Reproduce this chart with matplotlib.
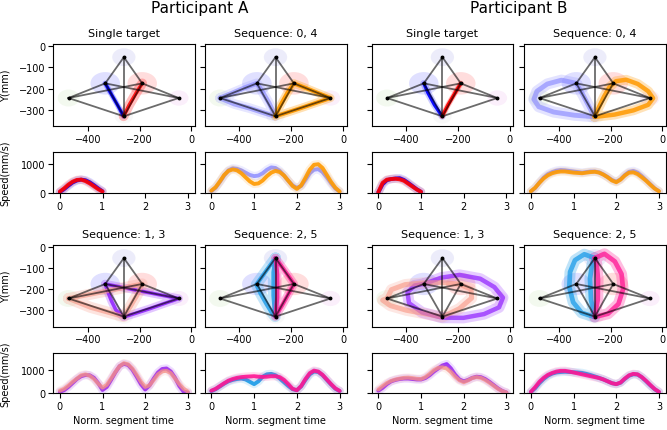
import matplotlib
matplotlib.use('Agg')
import matplotlib.pyplot as plt
from matplotlib.patches import Ellipse

# ---------------- data ----------------
# targets: T, UL, UR, L, R, B
TARGET_X = [-261, -333, -190, -475, -49, -261]
TARGET_Y = [-52, -175, -175, -244, -244, -330]
TARGET_RX = [45, 57, 57, 42, 38, 36]
TARGET_RY = [42, 53, 53, 40, 36, 34]
TARGET_COLORS = ['#6a6ad8', '#4040ff', '#ff3030', '#66bb33', '#cc33cc', '#888888']
TARGET_ALPHA = [0.12, 0.16, 0.16, 0.08, 0.08, 0.05]
EDGES = [(0, 1), (0, 2), (0, 5), (1, 5), (2, 5), (3, 5), (4, 5), (3, 1), (3, 2), (4, 2), (4, 1)]

# ---- Participant A trajectories ----
A_ST_BLUE_X = [-262, -285, -310, -333]
A_ST_BLUE_Y = [-330, -278, -225, -175]
A_ST_RED_X = [-262, -240, -214, -190]
A_ST_RED_Y = [-330, -276, -222, -175]

A_S04_BLUE_X = [-475, -420, -360, -300, -262, -285, -310, -333, -380, -430, -475]
A_S04_BLUE_Y = [-244, -272, -292, -316, -330, -270, -218, -175, -196, -222, -244]
A_S04_ORANGE_X = [-262, -242, -216, -190, -140, -90, -49, -100, -160, -220, -262]
A_S04_ORANGE_Y = [-330, -278, -222, -175, -199, -224, -244, -265, -290, -314, -330]

A_S13_PURPLE_X = [-333, -260, -190, -120, -49, -100, -160, -220, -262, -292, -308, -322, -333]
A_S13_PURPLE_Y = [-175, -193, -210, -227, -244, -266, -292, -316, -332, -298, -258, -215, -175]
A_S13_SALMON_X = [-475, -400, -330, -262, -190, -210, -236, -262, -320, -390, -475]
A_S13_SALMON_Y = [-244, -226, -209, -193, -175, -228, -282, -330, -310, -286, -244]

A_S25_BLUE_X = [-261, -285, -310, -335, -318, -296, -276, -262, -269, -269, -261]
A_S25_BLUE_Y = [-52, -92, -135, -178, -222, -270, -310, -330, -230, -120, -52]
A_S25_PINK_X = [-261, -237, -212, -190, -212, -237, -262, -254, -254, -261]
A_S25_PINK_Y = [-52, -92, -135, -175, -225, -280, -330, -240, -130, -52]

# ---- Participant B trajectories ----
B_ST_BLUE_X = [-262, -292, -316, -333]
B_ST_BLUE_Y = [-330, -276, -222, -175]
B_ST_RED_X = [-262, -239, -213, -190]
B_ST_RED_Y = [-330, -276, -222, -175]

B_S04_BLUE_X = [-333, -390, -445, -485, -497, -478, -420, -340, -262, -282, -306, -333]
B_S04_BLUE_Y = [-175, -160, -178, -212, -250, -285, -310, -325, -332, -288, -232, -175]
B_S04_ORANGE_X = [-262, -246, -226, -206, -180, -140, -95, -55, -36, -55, -112, -185, -262]
B_S04_ORANGE_Y = [-332, -288, -238, -195, -165, -158, -178, -212, -245, -276, -302, -322, -333]

B_S13_PURPLE_X = [-333, -265, -195, -115, -60, -27, -42, -100, -180, -262, -340, -390, -396, -368, -333]
B_S13_PURPLE_Y = [-175, -145, -132, -150, -190, -240, -286, -318, -336, -335, -310, -266, -215, -182, -175]
B_S13_SALMON_X = [-475, -458, -405, -335, -262, -195, -150, -148, -195, -262, -330, -400, -462, -492, -475]
B_S13_SALMON_Y = [-244, -202, -178, -170, -168, -176, -200, -242, -292, -332, -316, -300, -278, -252, -244]

B_S25_BLUE_X = [-262, -302, -338, -357, -360, -345, -312, -262, -276, -280, -272, -262]
B_S25_BLUE_Y = [-52, -34, -62, -118, -190, -262, -312, -332, -250, -150, -82, -52]
B_S25_PINK_X = [-262, -224, -184, -158, -152, -170, -210, -262, -250, -249, -254, -262]
B_S25_PINK_Y = [-52, -32, -68, -128, -200, -270, -316, -332, -250, -150, -80, -52]

# ---- speed profiles ----
T1 = [0.0, 0.1, 0.2, 0.3, 0.4, 0.5, 0.6, 0.7, 0.8, 0.9, 1.0]
T3 = [0.0, 0.1, 0.2, 0.3, 0.4, 0.5, 0.6, 0.7, 0.8, 0.9, 1.0,
      1.1, 1.2, 1.3, 1.4, 1.5, 1.6, 1.7, 1.8, 1.9, 2.0,
      2.1, 2.2, 2.3, 2.4, 2.5, 2.6, 2.7, 2.8, 2.9, 3.0]

A_SP_ST_BLUE = [30, 130, 250, 360, 430, 460, 440, 370, 270, 160, 60]
A_SP_ST_RED = [50, 160, 290, 390, 450, 460, 410, 330, 230, 130, 50]
B_SP_ST_BLUE = [20, 300, 440, 480, 500, 510, 450, 350, 240, 130, 40]
B_SP_ST_RED = [30, 350, 460, 480, 490, 470, 420, 320, 220, 120, 40]

A_SP_04_BLUE = [60, 180, 380, 600, 780, 850, 830, 780, 700, 620, 580, 600, 680, 800, 880, 860,
                760, 600, 420, 260, 180, 240, 450, 680, 800, 820, 720, 540, 330, 150, 50]
A_SP_04_ORANGE = [80, 200, 400, 620, 760, 810, 780, 680, 540, 400, 310, 330, 430, 580, 700, 760,
                  720, 600, 420, 240, 140, 260, 520, 800, 970, 990, 860, 620, 380, 180, 50]
B_SP_04_BLUE = [50, 170, 360, 530, 650, 720, 770, 790, 780, 760, 740, 720, 700, 720, 740, 740,
                710, 640, 550, 450, 390, 470, 620, 730, 760, 700, 580, 440, 300, 160, 60]
B_SP_04_ORANGE = [60, 180, 350, 500, 610, 680, 720, 740, 740, 720, 700, 690, 680, 700, 720, 730,
                  700, 630, 540, 430, 370, 460, 600, 700, 710, 650, 540, 420, 280, 150, 60]

A_SP_13_PURPLE = [50, 120, 260, 430, 600, 720, 770, 760, 650, 420, 130, 260, 560, 880, 1150, 1250,
                  1200, 1000, 700, 380, 150, 320, 620, 880, 1030, 1050, 920, 650, 300, 60, 20]
A_SP_13_SALMON = [100, 180, 320, 480, 620, 760, 800, 740, 600, 400, 230, 350, 620, 900, 1150, 1280,
                  1230, 1050, 780, 480, 260, 330, 560, 800, 930, 950, 850, 620, 380, 180, 60]
B_SP_13_PURPLE = [100, 220, 380, 500, 560, 600, 620, 620, 600, 580, 580, 640, 760, 920, 1050, 1180,
                  1240, 1050, 780, 580, 500, 560, 650, 700, 680, 600, 480, 340, 200, 90, 20]
B_SP_13_SALMON = [150, 300, 430, 520, 580, 620, 650, 660, 640, 610, 600, 680, 820, 980, 1080, 1100,
                  1050, 900, 700, 540, 460, 540, 640, 680, 650, 560, 440, 310, 180, 80, 20]

A_SP_25_BLUE = [80, 160, 280, 400, 500, 560, 600, 620, 580, 480, 380, 500, 700, 800, 820, 760,
                620, 460, 300, 160, 120, 280, 560, 800, 920, 900, 760, 560, 360, 180, 80]
A_SP_25_PINK = [100, 180, 300, 420, 530, 600, 650, 680, 700, 710, 720, 700, 690, 700, 720, 720,
                680, 560, 380, 180, 120, 300, 600, 850, 960, 920, 780, 580, 380, 200, 90]
B_SP_25_BLUE = [40, 200, 420, 600, 740, 830, 880, 900, 910, 900, 890, 880, 860, 820, 770, 710,
                650, 580, 500, 420, 380, 440, 600, 740, 800, 790, 670, 500, 320, 160, 40]
B_SP_25_PINK = [50, 250, 480, 650, 780, 860, 920, 950, 950, 920, 880, 840, 800, 760, 720, 680,
                640, 580, 500, 420, 380, 450, 620, 760, 820, 800, 680, 520, 340, 170, 50]

TITLES = [['Single target', 'Sequence: 0, 4', 'Single target', 'Sequence: 0, 4'],
          ['Sequence: 1, 3', 'Sequence: 2, 5', 'Sequence: 1, 3', 'Sequence: 2, 5']]
PARTICIPANTS = ['Participant A', 'Participant B']

C_BLUE, C_RED = '#0000ff', '#ff0000'
C_LBLUE, C_ORANGE = '#8282ff', '#ff9a00'
C_PURPLE, C_SALMON = '#8f1fff', '#f89482'
C_SKY, C_PINK = '#1a9be8', '#ff1493'

# ---------------- figure ----------------
W, H = 667, 431
fig = plt.figure(figsize=(W / 100, H / 100), dpi=100)
plt.rcParams['font.family'] = ['DejaVu Sans']

def add_ax(l, t, r, b):
    return fig.add_axes([l / W, 1 - b / H, (r - l) / W, (b - t) / H])

COLS = [(53, 194.7), (204.5, 346.5), (371.5, 513.3), (524, 665.8)]
TRAJ_ROWS = [(45, 127.3), (246, 327.5)]
SPEED_ROWS = [(153, 194), (354, 394)]

def draw_scene(ax):
    for i in range(6):
        ax.add_patch(Ellipse((TARGET_X[i], TARGET_Y[i]), 2 * TARGET_RX[i], 2 * TARGET_RY[i],
                             color=TARGET_COLORS[i], alpha=TARGET_ALPHA[i], lw=0, zorder=0))

def draw_edges(ax):
    for a, b in EDGES:
        ax.plot([TARGET_X[a], TARGET_X[b]], [TARGET_Y[a], TARGET_Y[b]], color='k',
                alpha=0.58, lw=1.3, zorder=5)
    ax.plot(TARGET_X, TARGET_Y, 'o', color='k', ms=1.8, zorder=6, lw=0)

def path(ax, xs, ys, color, core_lw, core_alpha, band_lw, band_alpha, z=2):
    ax.plot(xs, ys, color=color, lw=band_lw, alpha=band_alpha, solid_joinstyle='round',
            solid_capstyle='round', zorder=z)
    ax.plot(xs, ys, color=color, lw=core_lw, alpha=core_alpha, solid_joinstyle='round',
            solid_capstyle='round', zorder=z + 0.5)

TRAJ = [
    [  # row 0
        [(A_ST_BLUE_X, A_ST_BLUE_Y, C_BLUE, 2.4, 0.95, 4, 0.25),
         (A_ST_RED_X, A_ST_RED_Y, C_RED, 2.6, 0.85, 7, 0.25)],
        [(A_S04_BLUE_X, A_S04_BLUE_Y, C_LBLUE, 3.5, 0.6, 7, 0.2),
         (A_S04_ORANGE_X, A_S04_ORANGE_Y, C_ORANGE, 3.0, 0.95, 6, 0.3)],
        [(B_ST_BLUE_X, B_ST_BLUE_Y, C_BLUE, 2.4, 0.95, 5, 0.2),
         (B_ST_RED_X, B_ST_RED_Y, C_RED, 2.6, 0.95, 4, 0.25)],
        [(B_S04_BLUE_X, B_S04_BLUE_Y, C_LBLUE, 3.5, 0.6, 8, 0.22),
         (B_S04_ORANGE_X, B_S04_ORANGE_Y, C_ORANGE, 3.2, 0.85, 7, 0.28)],
    ],
    [  # row 1
        [(A_S13_PURPLE_X, A_S13_PURPLE_Y, C_PURPLE, 2.6, 0.85, 6, 0.25),
         (A_S13_SALMON_X, A_S13_SALMON_Y, C_SALMON, 3.5, 0.6, 8, 0.25)],
        [(A_S25_BLUE_X, A_S25_BLUE_Y, C_SKY, 3.0, 0.8, 8, 0.25),
         (A_S25_PINK_X, A_S25_PINK_Y, C_PINK, 3.0, 0.8, 6, 0.3)],
        [(B_S13_PURPLE_X, B_S13_PURPLE_Y, C_PURPLE, 3.2, 0.7, 8, 0.22),
         (B_S13_SALMON_X, B_S13_SALMON_Y, C_SALMON, 3.6, 0.6, 8, 0.22)],
        [(B_S25_BLUE_X, B_S25_BLUE_Y, C_SKY, 3.4, 0.75, 8, 0.28),
         (B_S25_PINK_X, B_S25_PINK_Y, C_PINK, 3.4, 0.75, 8, 0.28)],
    ],
]

SPEEDS = [
    [[(T1, A_SP_ST_BLUE, C_BLUE), (T1, A_SP_ST_RED, C_RED)],
     [(T3, A_SP_04_BLUE, C_LBLUE), (T3, A_SP_04_ORANGE, C_ORANGE)],
     [(T1, B_SP_ST_BLUE, C_BLUE), (T1, B_SP_ST_RED, C_RED)],
     [(T3, B_SP_04_BLUE, C_LBLUE), (T3, B_SP_04_ORANGE, C_ORANGE)]],
    [[(T3, A_SP_13_PURPLE, C_PURPLE), (T3, A_SP_13_SALMON, C_SALMON)],
     [(T3, A_SP_25_BLUE, C_SKY), (T3, A_SP_25_PINK, C_PINK)],
     [(T3, B_SP_13_PURPLE, C_PURPLE), (T3, B_SP_13_SALMON, C_SALMON)],
     [(T3, B_SP_25_BLUE, C_SKY), (T3, B_SP_25_PINK, C_PINK)]],
]
SPEED_YMAX = [1410, 1715]

FS_TICK = 7
for r in range(2):
    for c in range(4):
        l, rr = COLS[c]
        t, b = TRAJ_ROWS[r]
        ax = add_ax(l, t, rr, b)
        draw_scene(ax)
        for (xs, ys, col, clw, ca, blw, ba) in TRAJ[r][c]:
            path(ax, xs, ys, col, clw, ca, blw, ba)
        draw_edges(ax)
        ax.set_xlim(-535, 13)
        ax.set_ylim(-377, 10)
        ax.set_xticks([-400, -200, 0])
        ax.set_yticks([0, -100, -200, -300])
        ax.tick_params(labelsize=FS_TICK, length=3.5, width=0.8, pad=2)
        if c != 0:
            ax.set_yticklabels([])
        else:
            ax.set_ylabel('Y(mm)', fontsize=7)
            ax.yaxis.set_label_coords((10.5 - l) / (rr - l), 0.5)
        ax.set_title(TITLES[r][c], fontsize=8, pad=5.5)

        t2, b2 = SPEED_ROWS[r]
        sx = add_ax(l, t2, rr, b2)
        for k, (xs, ys, col) in enumerate(SPEEDS[r][c]):
            sx.plot(xs, ys, color=col, lw=6, alpha=0.15, solid_capstyle='round', zorder=1 + k)
            sx.plot(xs, ys, color=col, lw=2.8, alpha=0.9 if col not in (C_LBLUE, C_SALMON) else 0.75,
                    solid_capstyle='round', zorder=2 + k)
        sx.set_xlim(-0.16, 3.16)
        sx.set_ylim(0, SPEED_YMAX[r])
        sx.set_xticks([0, 1, 2, 3])
        sx.set_yticks([0, 1000])
        sx.tick_params(labelsize=FS_TICK, length=3.5, width=0.8, pad=2)
        if c != 0:
            sx.set_yticklabels([])
        else:
            sx.set_ylabel('Speed(mm/s)', fontsize=7)
            sx.yaxis.set_label_coords((10.5 - l) / (rr - l), 0.5)
        if r == 1:
            sx.set_xlabel('Norm. segment time', fontsize=7, labelpad=3)

fig.text(200 / W, 1 - 8 / H, PARTICIPANTS[0], ha='center', va='center', fontsize=11)
fig.text(518.5 / W, 1 - 8 / H, PARTICIPANTS[1], ha='center', va='center', fontsize=11)

fig.savefig('out.png', dpi=100)
